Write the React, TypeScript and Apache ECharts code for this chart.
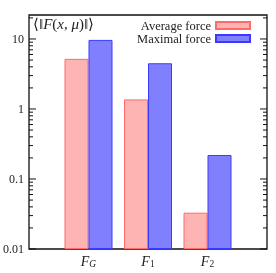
import React, { useEffect, useRef } from "react";
import * as echarts from "echarts";

const categories = ["", "FG", "F1", "F2", ""];
const averageForce = ["-", 5.2, 1.37, 0.033, "-"];
const maximalForce = ["-", 9.7, 4.5, 0.22, "-"];
const yTickLabels = [0.01, 0.1, 1, 10];
const minorTicks = [
  0.02, 0.03, 0.04, 0.05, 0.06, 0.07, 0.08, 0.09,
  0.2, 0.3, 0.4, 0.5, 0.6, 0.7, 0.8, 0.9,
  2, 3, 4, 5, 6, 7, 8, 9, 20,
];

const SERIF = "'Liberation Serif', serif";

export default function App() {
  const ref = useRef<HTMLDivElement>(null);
  useEffect(() => {
    if (!ref.current) return;
    const chart = echarts.init(ref.current, undefined, { renderer: "svg" });
    const tickData = [
      ...yTickLabels.map((v) => [0, v, 1]),
      ...minorTicks.map((v) => [0, v, 0]),
    ];
    const labelFor: Record<string, string> = {
      FG: "{f|F}{s|G}",
      F1: "{f|F}{d|1}",
      F2: "{f|F}{d|2}",
    };
    chart.setOption({
      animation: false,
      grid: {
        left: 29,
        top: 15,
        width: 238,
        height: 234,
        show: true,
        borderColor: "#111",
        borderWidth: 1.3,
        backgroundColor: "transparent",
      },
      legend: {
        orient: "vertical",
        right: 20,
        top: 14,
        align: "right",
        icon: "rect",
        itemWidth: 34,
        itemHeight: 7,
        itemGap: 0,
        textStyle: { fontFamily: SERIF, fontSize: 12.5, color: "#222", lineHeight: 13 },
        data: ["Average force", "Maximal force"],
      },
      xAxis: {
        type: "category",
        data: categories,
        boundaryGap: false,
        axisLine: { show: false },
        axisTick: { show: false },
        splitLine: { show: false },
        axisLabel: {
          interval: 0,
          margin: 5,
          formatter: (v: string) => labelFor[v] || "",
          rich: {
            f: { fontFamily: SERIF, fontStyle: "italic", fontSize: 14, color: "#222", lineHeight: 15, verticalAlign: "top" },
            s: { fontFamily: SERIF, fontStyle: "italic", fontSize: 9.5, color: "#222", lineHeight: 6, verticalAlign: "bottom" },
            d: { fontFamily: SERIF, fontSize: 9.5, color: "#222", lineHeight: 6, verticalAlign: "bottom" },
          },
        },
      },
      yAxis: {
        type: "log",
        min: 0.01,
        max: 22,
        logBase: 10,
        startValue: 0.01,
        axisLine: { show: false },
        axisTick: { show: false },
        splitLine: { show: false },
        axisLabel: {
          margin: 5,
          fontFamily: SERIF,
          fontSize: 12,
          color: "#222",
          formatter: (v: number) => {
            const l = Math.log10(v);
            return Math.abs(l - Math.round(l)) < 1e-6 && Math.round(l) <= 1 ? String(+v.toPrecision(3)) : "";
          },
        },
      },
      series: [
        {
          name: "Average force",
          type: "bar",
          data: averageForce,
          barWidth: 24,
          barGap: "0%",
          itemStyle: { color: "#ffb4b4", borderColor: "#ff6a6a", borderWidth: 1 },
        },
        {
          name: "Maximal force",
          type: "bar",
          data: maximalForce,
          barWidth: 24,
          barGap: "0%",
          itemStyle: { color: "#8080ff", borderColor: "#3a3aff", borderWidth: 1 },
        },
        {
          type: "custom",
          silent: true,
          z: 10,
          data: tickData,
          encode: { x: 0, y: 1 },
          renderItem: (params: any, api: any) => {
            const y = api.coord([0, api.value(1)])[1];
            const cs = params.coordSys;
            const len = api.value(2) ? 7 : 4;
            const style = { stroke: "#111", lineWidth: 1 };
            return {
              type: "group",
              children: [
                { type: "line", shape: { x1: cs.x, y1: y, x2: cs.x + len, y2: y }, style },
                { type: "line", shape: { x1: cs.x + cs.width - len, y1: y, x2: cs.x + cs.width, y2: y }, style },
              ],
            };
          },
        },
      ],
      graphic: [
        {
          type: "text",
          left: 33,
          top: 16,
          style: {
            text: "{n|⟨‖}{i|F}{n|(}{i|x}{n|, }{i|μ}{n|)‖⟩}",
            rich: {
              n: { fontFamily: SERIF, fontSize: 15, fill: "#222" },
              i: { fontFamily: SERIF, fontSize: 15, fontStyle: "italic", fill: "#222" },
            },
          },
        },
      ],
    });
    return () => chart.dispose();
  }, []);
  return (
    <div style={{ position: "fixed", left: 0, top: 0, width: 276, height: 273 }}>
      <div ref={ref} style={{ width: 276, height: 273 }} />
    </div>
  );
}
